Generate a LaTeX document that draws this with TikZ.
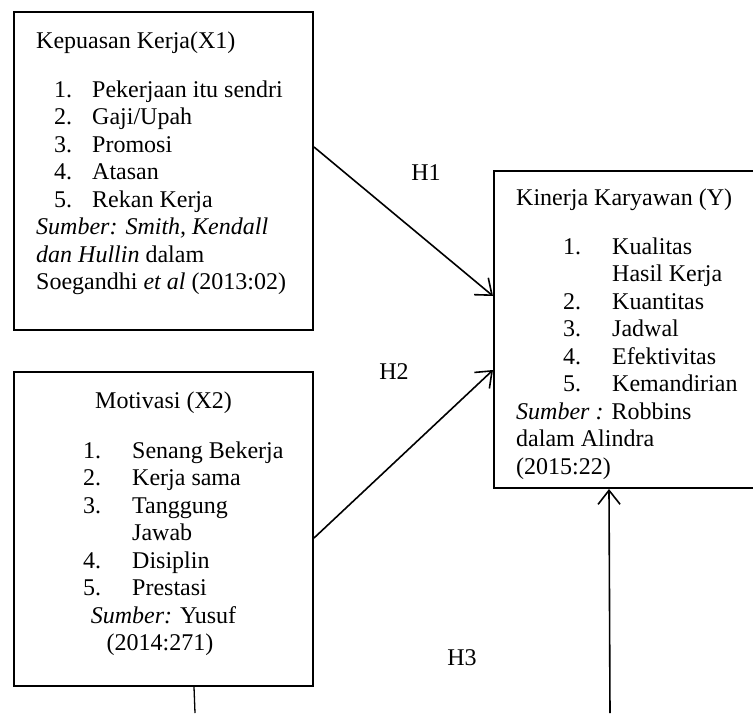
\documentclass[tikz,border=0pt]{standalone}
\usepackage{fontspec}
\setmainfont{Liberation Serif}
\usetikzlibrary{arrows.meta,calc}
\tikzset{
  box/.style={draw, line width=2pt, inner sep=0pt, rectangle},
  txt/.style={anchor=base west, inner sep=0pt, font=\fontsize{24}{28}\selectfont},
  ctxt/.style={anchor=base, inner sep=0pt, font=\fontsize{24}{28}\selectfont},
  arr/.style={line width=1.6pt, -{Straight Barb[length=14pt,width=22pt]}},
  conn/.style={line width=1.3pt}
}
\begin{document}
\begin{tikzpicture}[x=1pt,y=-1pt]
\useasboundingbox (0,0) rectangle (753,713);
% boxes
\node[box, minimum width=299pt, minimum height=318pt] (x1) at (163.5,171) {};
\node[box, minimum width=299pt, minimum height=314pt] (x2) at (163.5,529) {};
\node[box, minimum width=306pt, minimum height=317pt] (y) at (647,329.5) {};
% X1 text
\node[txt] (x1t) at (36,48) {Kepuasan Kerja(X1)};
\node[txt] (x1n1) at (54,97) {1.};   \node[txt] (x1i1) at (92,97) {Pekerjaan itu sendri};
\node[txt] (x1n2) at (54,124.5) {2.}; \node[txt] (x1i2) at (92,124.5) {Gaji/Upah};
\node[txt] (x1n3) at (54,152) {3.};  \node[txt] (x1i3) at (92,152) {Promosi};
\node[txt] (x1n4) at (54,179.5) {4.}; \node[txt] (x1i4) at (92,179.5) {Atasan};
\node[txt] (x1n5) at (54,207) {5.};  \node[txt] (x1i5) at (92,207) {Rekan Kerja};
\node[txt] (x1s1) at (36,234.5) {\textit{Sumber: Smith, Kendall}};
\node[txt] (x1s2) at (36,262) {\textit{dan Hullin} dalam};
\node[txt] (x1s3) at (36,289) {Soegandhi \textit{et al} (2013:02)};
% X2 text
\node[ctxt] (x2t) at (163.5,408) {Motivasi (X2)};
\node[txt] (x2n1) at (83,458) {1.};   \node[txt] (x2i1) at (132,458) {Senang Bekerja};
\node[txt] (x2n2) at (83,485.5) {2.}; \node[txt] (x2i2) at (132,485.5) {Kerja sama};
\node[txt] (x2n3) at (83,513) {3.};   \node[txt] (x2i3) at (132,513) {Tanggung};
\node[txt] (x2i3b) at (132,540.5) {Jawab};
\node[txt] (x2n4) at (83,568) {4.};   \node[txt] (x2i4) at (132,568) {Disiplin};
\node[txt] (x2n5) at (83,595.5) {5.}; \node[txt] (x2i5) at (132,595.5) {Prestasi};
\node[ctxt] (x2s1) at (163.5,623) {\textit{Sumber:} Yusuf};
\node[ctxt] (x2s2) at (160,650.5) {(2014:271)};
% Y text
\node[txt] (yt) at (516,205) {Kinerja Karyawan (Y)};
\node[txt] (yn1) at (563,254) {1.};   \node[txt] (yi1) at (612,254) {Kualitas};
\node[txt] (yi1b) at (612,281.5) {Hasil Kerja};
\node[txt] (yn2) at (563,309) {2.};   \node[txt] (yi2) at (612,309) {Kuantitas};
\node[txt] (yn3) at (563,336.5) {3.}; \node[txt] (yi3) at (612,336.5) {Jadwal};
\node[txt] (yn4) at (563,364) {4.};   \node[txt] (yi4) at (612,364) {Efektivitas};
\node[txt] (yn5) at (563,391.5) {5.}; \node[txt] (yi5) at (612,391.5) {Kemandirian};
\node[txt] (ys1) at (516,419) {\textit{Sumber :} Robbins};
\node[txt] (ys2) at (516,446.5) {dalam Alindra};
\node[txt] (ys3) at (516,474) {(2015:22)};
% labels
\node[ctxt] (h1) at (426,180) {H1};
\node[ctxt] (h2) at (394,379) {H2};
\node[ctxt] (h3) at (462,665) {H3};
% connector end points on the box edges
\path (x1.north east) ++(0,136) coordinate (h1s);
\path (y.north west) ++(0,126) coordinate (h1e);
\path (x2.north east) ++(0,167) coordinate (h2s);
\path (y.north west) ++(0,200) coordinate (h2e);
\path (y.south west) ++(116,0) coordinate (h3e);
\coordinate (h3s) at (610,713);
\path (x2.south west) ++(181,0) coordinate (x2d);
\coordinate (x2e) at (195,713);
% connectors
\draw[arr] (h1s) -- (h1e);
\draw[arr] (h2s) -- (h2e);
\draw[arr] (h3s) -- (h3e);
\draw[conn] (x2d) -- (x2e);
\end{tikzpicture}
\end{document}
